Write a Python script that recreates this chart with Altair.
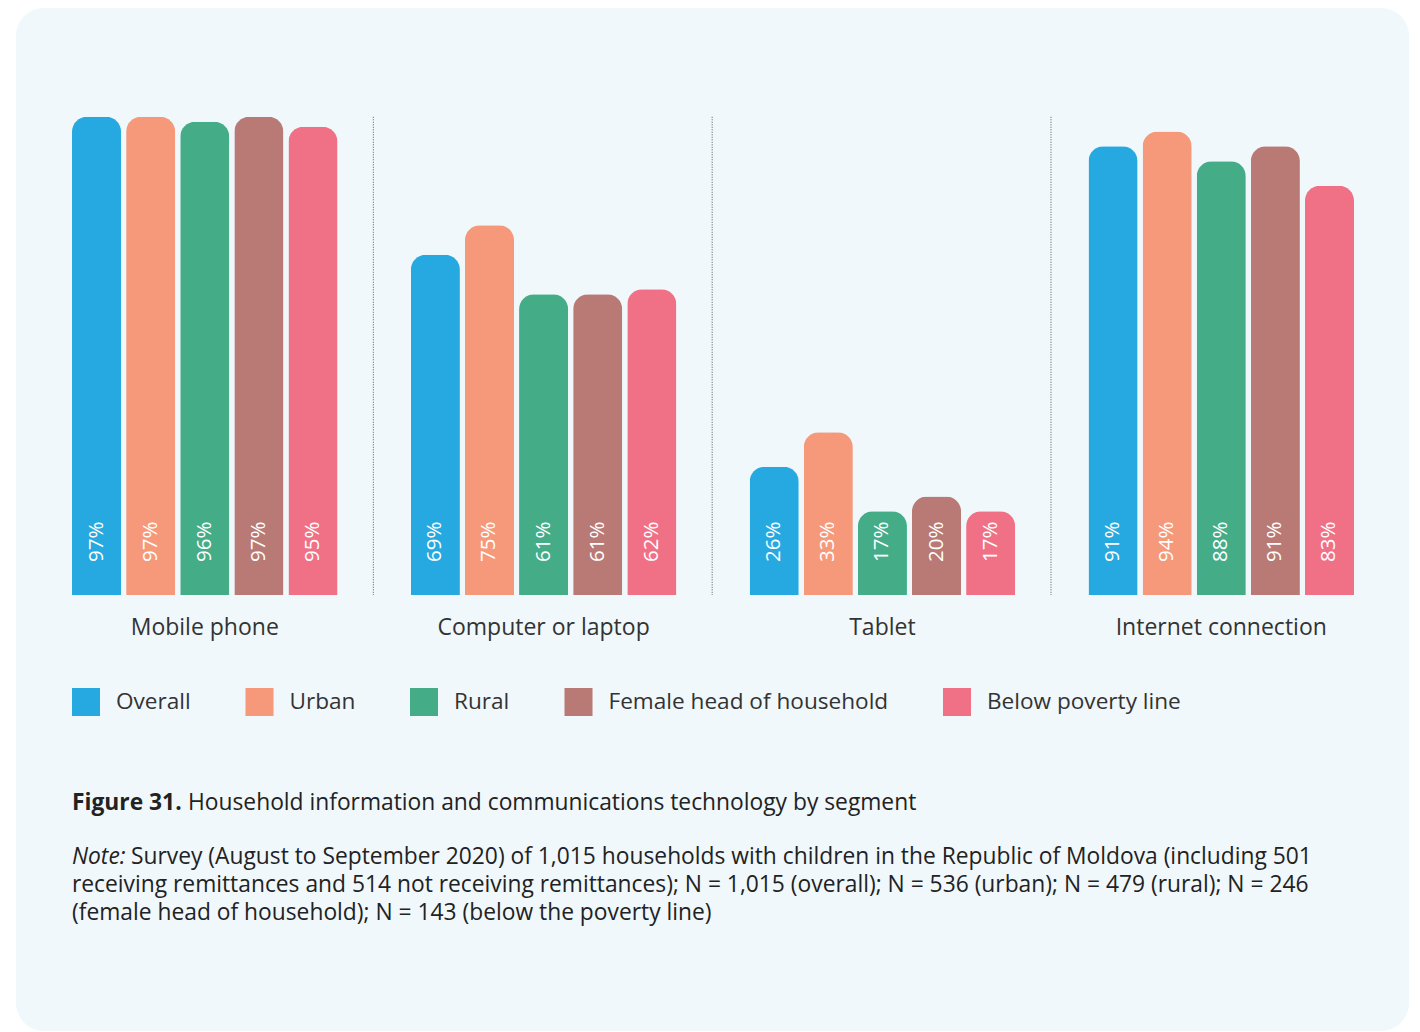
import altair as alt
import pandas as pd

groups = ["Mobile phone", "Computer or laptop", "Tablet", "Internet connection"]
segments = ["Overall", "Urban", "Rural", "Female head of household", "Below poverty line"]
colors = ["#26A9E0", "#F6987A", "#45AC88", "#B97974", "#F07086"]

overall = [97, 69, 26, 91]
urban = [97, 75, 33, 94]
rural = [96, 61, 17, 88]
female = [97, 61, 20, 91]
poverty = [95, 62, 17, 83]

caption_bold = ["Figure 31."]
caption_rest = ["Household information and communications technology by segment"]
note_italic = ["Note:"]
note_lines = [
    "Survey (August to September 2020) of 1,015 households with children in the Republic of Moldova (including 501",
    "receiving remittances and 514 not receiving remittances); N = 1,015 (overall); N = 536 (urban); N = 479 (rural); N = 246",
    "(female head of household); N = 143 (below the poverty line)",
]

series = [overall, urban, rural, female, poverty]
rows = []
for seg, vals in zip(segments, series):
    for g, v in zip(groups, vals):
        rows.append({"group": g, "segment": seg, "value": v, "label": f"{v}%"})
df = pd.DataFrame(rows)
groups_df = pd.DataFrame({"group": groups})
sep_df = pd.DataFrame({"group": groups[1:], "top": [df["value"].max()] * 3})

FONT = "Open Sans"
TXT = "#333333"

xscale = alt.Scale(domain=groups, range=[56, 1338], paddingInner=0.2164, paddingOuter=0)
yscale = alt.Scale(domain=[0, 100], range=[587, 94])
xoff = alt.XOffset("segment:N", sort=segments, scale=alt.Scale(paddingInner=0.093, paddingOuter=0))

base = alt.Chart(df)

bars = base.mark_bar(cornerRadiusTopLeft=15, cornerRadiusTopRight=15).encode(
    x=alt.X("group:N", scale=xscale, axis=None),
    xOffset=xoff,
    y=alt.Y("value:Q", scale=yscale, axis=None),
    color=alt.Color(
        "segment:N",
        scale=alt.Scale(domain=segments, range=colors),
        legend=alt.Legend(
            title=None,
            orient="none",
            legendX=56,
            legendY=680,
            direction="horizontal",
            columns=5,
            symbolType="square",
            symbolSize=784,
            symbolStrokeWidth=0,
            symbolOpacity=1,
            labelFont=FONT,
            labelFontSize=22.6,
            labelColor=TXT,
            labelOffset=16,
            labelLimit=0,
            columnPadding=54.5,
            padding=0,
        ),
    ),
)

bar_labels = base.mark_text(
    angle=270, align="left", baseline="middle", dx=33, color="white", fontSize=20.5, font=FONT
).encode(
    x=alt.X("group:N", scale=xscale, axis=None),
    xOffset=xoff,
    y=alt.datum(0),
    text="label:N",
)

group_labels = alt.Chart(groups_df).mark_text(
    baseline="middle", align="center", dy=32.5, fontSize=23, font=FONT, color=TXT
).encode(
    x=alt.X("group:N", scale=xscale, axis=None),
    y=alt.datum(0),
    text="group:N",
)

separators = alt.Chart(sep_df).mark_rule(color="#555555", strokeWidth=1, strokeDash=[1, 1.5]).encode(
    x=alt.X("group:N", scale=xscale, axis=None, bandPosition=0),
    xOffset=alt.value(-37.5),
    y=alt.Y("top:Q", scale=yscale, axis=None),
    y2=alt.datum(0),
)

def text_layer(lines, x, y, **kw):
    return alt.Chart(pd.DataFrame({"t": lines})).mark_text(
        align="left", baseline="middle", font=FONT, fontSize=22.8, color="#222222", **kw
    ).encode(x=alt.value(x), y=alt.value(y), text="t:N")

cap1 = text_layer(caption_bold, 56, 795, fontWeight="bold")
cap2 = text_layer(caption_rest, 172, 795)
note1 = text_layer(note_italic, 56, 849, fontStyle="italic")
note2 = text_layer([note_lines[0]], 115, 849)
note3 = text_layer([note_lines[1]], 56, 877)
note4 = text_layer([note_lines[2]], 56, 905)

chart = alt.layer(
    separators, bars, bar_labels, group_labels, cap1, cap2, note1, note2, note3, note4
).properties(
    width=1393,
    height=1023,
    autosize="none",
    padding={"left": 8, "top": 0, "right": 0, "bottom": 0},
    background="white",
).configure_view(
    fill="#F0F8FC", cornerRadius=28, stroke="transparent", strokeWidth=0
)

chart.save("out.html", embed_options={"renderer": "svg", "actions": False})
